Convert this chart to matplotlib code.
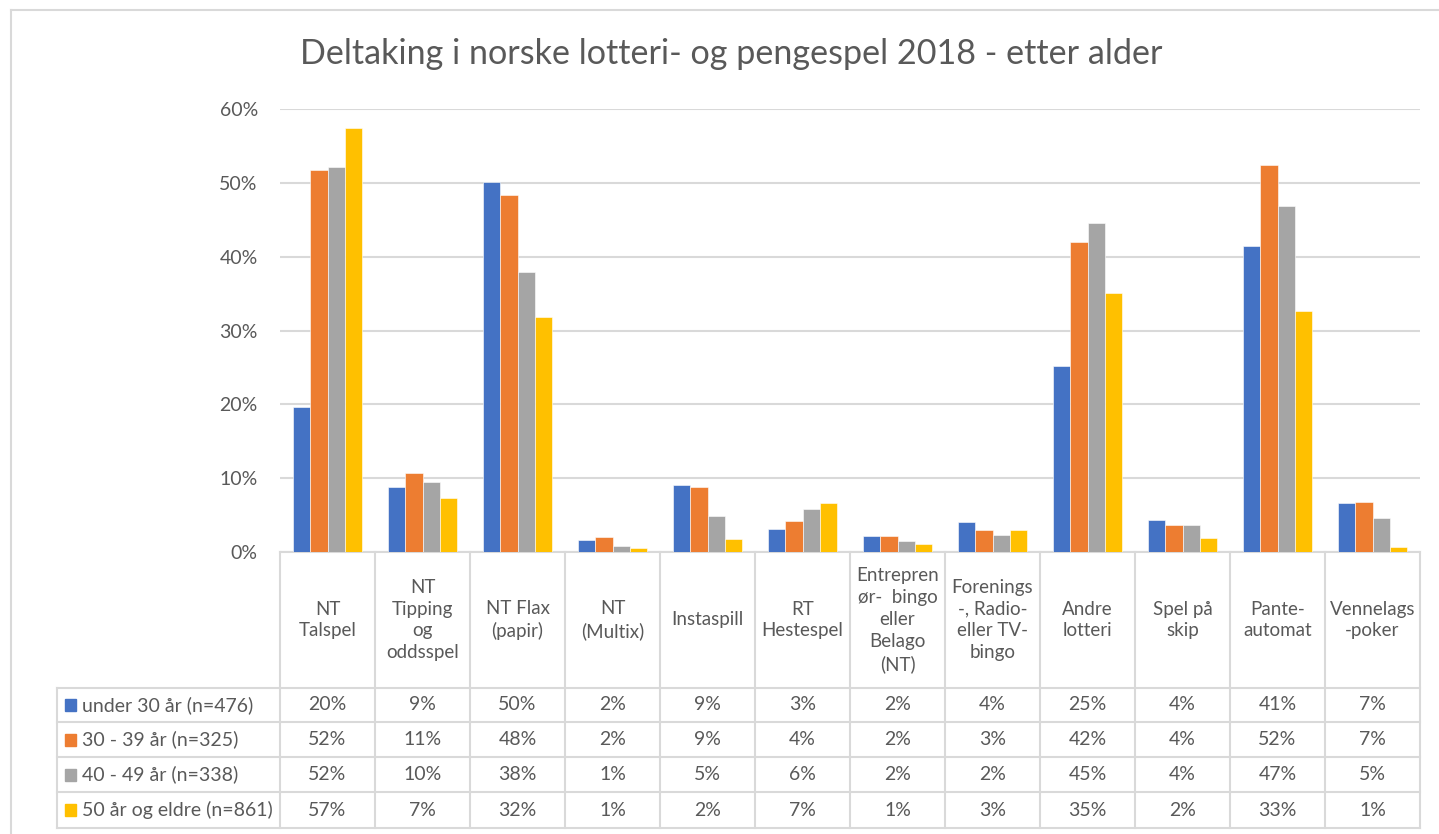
import matplotlib.pyplot as plt
import numpy as np

categories = ["NT\nTalspel", "NT\nTipping\nog\noddsspel", "NT Flax\n(papir)", "NT\n(Multix)",
              "Instaspill", "RT\nHestespel", "Entrepren\nør-  bingo\neller\nBelago\n(NT)",
              "Forenings\n-, Radio-\neller TV-\nbingo", "Andre\nlotteri", "Spel på\nskip",
              "Pante-\nautomat", "Vennelags\n-poker"]
series = ["under 30 år (n=476)", "30 - 39 år (n=325)", "40 - 49 år (n=338)", "50 år og eldre (n=861)"]

under30 = [19.6, 8.8, 50.1, 1.6, 9.1, 3.1, 2.2, 4.1, 25.2, 4.3, 41.4, 6.6]
age30_39 = [51.7, 10.7, 48.3, 2.0, 8.8, 4.2, 2.1, 3.0, 42.0, 3.6, 52.4, 6.8]
age40_49 = [52.1, 9.5, 37.9, 0.8, 4.9, 5.8, 1.5, 2.3, 44.6, 3.6, 46.8, 4.6]
age50_up = [57.4, 7.3, 31.8, 0.6, 1.7, 6.6, 1.1, 3.0, 35.1, 1.9, 32.6, 0.7]

colors = ['#4472C4', '#ED7D31', '#A5A5A5', '#FFC000']
grid_c = '#d9d9d9'
text_c = '#595959'
FONT = 'Lato'

W, H = 1439, 834
fig = plt.figure(figsize=(W / 100, H / 100), dpi=100)
plt.rcParams['font.family'] = [FONT, 'DejaVu Sans']

# pixel layout
x0, x1 = 280, 1420
y_top, y_zero = 109, 552
ax = fig.add_axes([x0 / W, (H - y_zero) / H, (x1 - x0) / W, (y_zero - y_top) / H])

data = [under30, age30_39, age40_49, age50_up]
x = np.arange(len(categories))
bw = 0.182
for k, vals in enumerate(data):
    ax.bar(x + (k - 1.5) * bw, np.array(vals) / 100, bw, color=colors[k],
           edgecolor='white', linewidth=0.4, zorder=3)

ax.set_xlim(-0.5, len(categories) - 0.5)
ax.set_ylim(0, 0.6)
ax.set_yticks(np.arange(0, 0.61, 0.1))
ax.set_yticklabels([f"{int(round(v * 100))}%" for v in np.arange(0, 0.61, 0.1)],
                   fontsize=14, color=text_c)
ax.tick_params(axis='y', length=0, pad=16)
ax.set_xticks([])
ax.yaxis.grid(True, color=grid_c, linewidth=1.5, zorder=0)
for s in ['top', 'right', 'left']:
    ax.spines[s].set_visible(False)
ax.spines['bottom'].set_color(grid_c)
ax.spines['bottom'].set_linewidth(1.5)
ax.patch.set_alpha(0)

# overlay in pixel coordinates for the data table and frame
ov = fig.add_axes([0, 0, 1, 1])
ov.set_xlim(0, W)
ov.set_ylim(H, 0)
ov.axis('off')

# chart frame
ov.plot([11, 11], [10, H], color=grid_c, lw=1.5)
ov.plot([11, W], [10, 10], color=grid_c, lw=1.5)

fig.text(731 / W, 1 - 54 / H, "Deltaking i norske lotteri- og pengespel 2018 - etter alder",
         ha='center', va='center', fontsize=24.6, color=text_c)

col_w = (x1 - x0) / len(categories)
rows = [688, 722, 757, 792, 828]
leg_x = 57
# vertical lines
for i in range(len(categories) + 1):
    ov.plot([x0 + i * col_w] * 2, [y_zero, rows[-1]], color=grid_c, lw=1.5)
ov.plot([leg_x, leg_x], [rows[0], rows[-1]], color=grid_c, lw=1.5)
for r in rows:
    ov.plot([leg_x, x1], [r, r], color=grid_c, lw=1.5)

# header labels
for i, c in enumerate(categories):
    ov.text(x0 + (i + 0.5) * col_w, (y_zero + rows[0]) / 2, c, ha='center', va='center',
            fontsize=13.5, color=text_c, linespacing=1.35)

# rows
for k, (name, vals) in enumerate(zip(series, data)):
    yc = (rows[k] + rows[k + 1]) / 2
    ov.add_patch(plt.Rectangle((65, yc - 6), 11, 12, color=colors[k]))
    ov.text(82, yc, name, ha='left', va='center', fontsize=14, color=text_c)
    for i, v in enumerate(vals):
        ov.text(x0 + (i + 0.5) * col_w, yc, f"{int(round(v))}%", ha='center', va='center',
                fontsize=14, color=text_c)

fig.savefig('out.png', dpi=100)
